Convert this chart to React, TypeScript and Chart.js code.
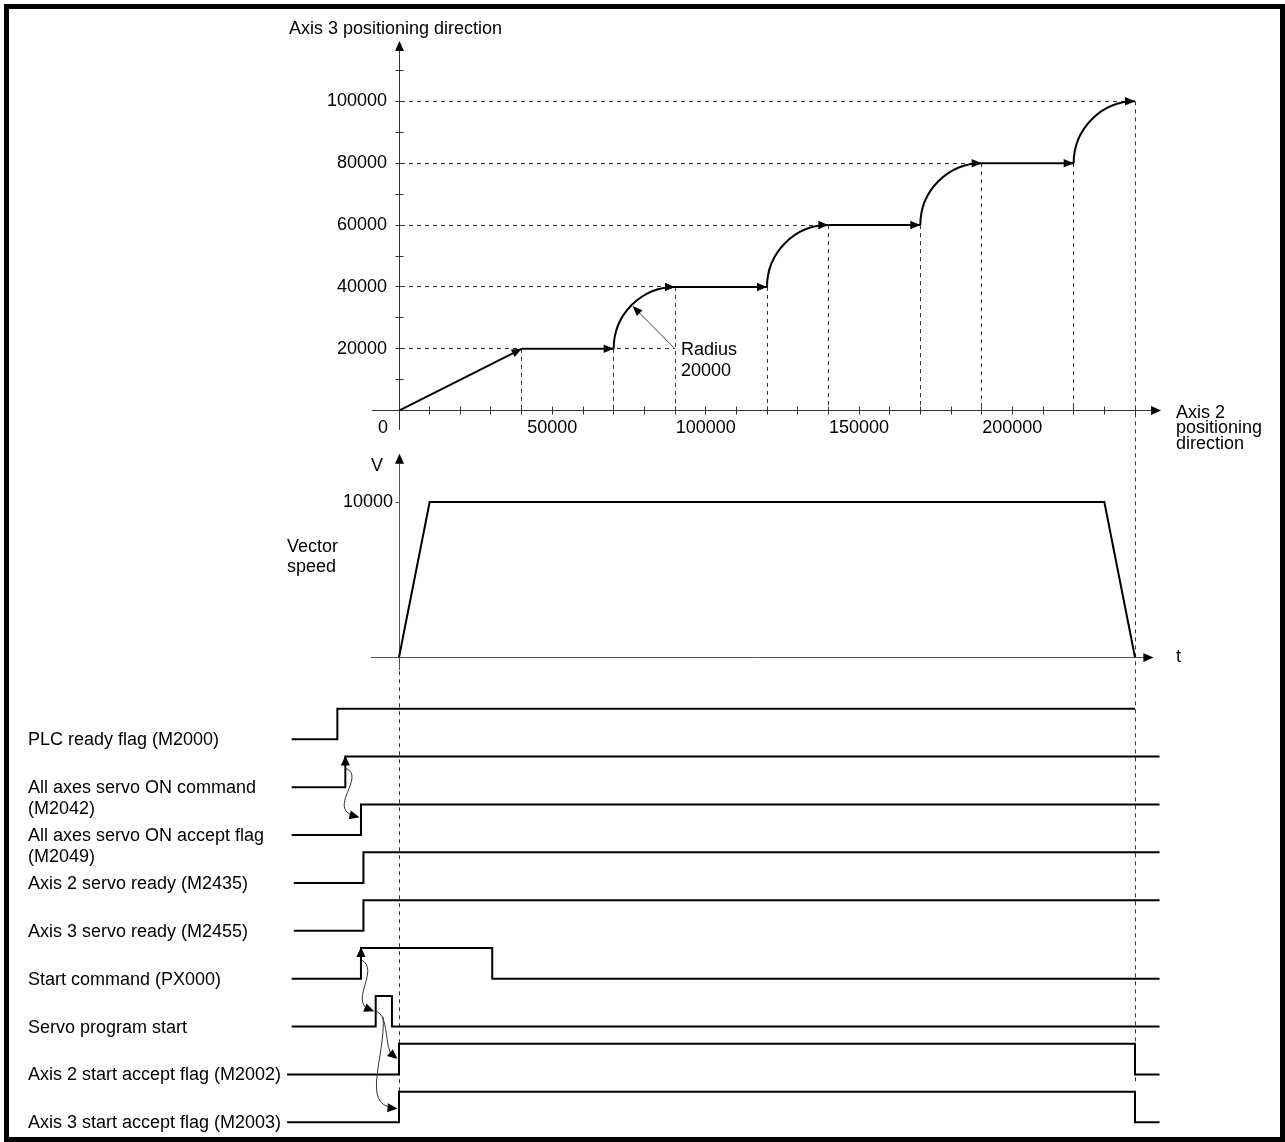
import React, { useEffect, useRef } from 'react';
import { Chart, registerables } from 'chart.js';

Chart.register(...registerables);

const W = 1285;
const H = 1142;

// ---------------- Positioning path (Axis 2 = horizontal, Axis 3 = vertical)
const pathAxis2 = [0, 40000, 70000, 90000, 120000, 140000, 170000, 190000, 220000, 240000];
const pathAxis3 = [0, 20000, 20000, 40000, 40000, 60000, 60000, 80000, 80000, 100000];
const pathKinds = ['line', 'line', 'arc', 'line', 'arc', 'line', 'arc', 'line', 'arc'];
const arcRadius = 20000;
const radiusArcIndex = 2;
const radiusLabel = ['Radius', '20000'];

const axis2LabelValues = [50000, 100000, 150000, 200000];
const axis2TickStep = 10000;
const axis2TickLast = 240000;
const axis3LabelValues = [20000, 40000, 60000, 80000, 100000];
const axis3TickStep = 10000;
const axis3TickLast = 110000;
const axis3Title = 'Axis 3 positioning direction';
const axis2Title = ['Axis 2', 'positioning', 'direction'];
const originLabel = '0';

// ---------------- Vector speed (time in arbitrary units, aligned with the path)
const speedTime = [0, 10, 230, 240];
const speedValue = [0, 10000, 10000, 0];
const speedLabelValues = [10000];
const speedTitle = ['Vector', 'speed'];
const speedAxisLabel = 'V';
const timeAxisLabel = 't';

// ---------------- Timing chart
const signalLabels = [
  ['PLC ready flag (M2000)'],
  ['All axes servo ON command', '(M2042)'],
  ['All axes servo ON accept flag', '(M2049)'],
  ['Axis 2 servo ready (M2435)'],
  ['Axis 3 servo ready (M2455)'],
  ['Start command (PX000)'],
  ['Servo program start'],
  ['Axis 2 start accept flag (M2002)'],
  ['Axis 3 start accept flag (M2003)'],
];
const signalBegin = [-35, -35, -35, -34.3, -34.3, -35, -35, -36.5, -36.5];
const signalEdges = [[-20.1], [-17.5], [-12.4], [-11.6], [-11.6], [-12.4, 30.4], [-7.6, -2.3], [0, 240], [0, 240]];
const signalFinish = [240, 248, 248, 248, 248, 248, 248, 248, 248];
const triggerRows = [1, 5];
const triggerTimes = [-17.5, -12.4];
// causal links: [row, time, level]
const linkFrom = [[1, -17.5, 0.62], [5, -12.4, 0.62], [6, -7.6, 0.5], [6, -5.2, 0.32]];
const linkTo = [[2, -12.4, 0.58], [6, -7.6, 0.5], [7, 0, 0.5], [8, 0, 0.45]];

// ---------------- Layout / style (not data)
const FONT = '18px "Liberation Sans", Arial, Helvetica, sans-serif';
const ORIGIN_X = 399;
const POS_PX_X = 736 / 240000;
const POS_ZERO_Y = 410.7;
const POS_PX_Y = 309.4 / 100000;
const TIME_PX = 736 / 240;
const SPEED_ZERO_Y = 657.3;
const SPEED_PX_Y = 155.3 / 10000;
const ROW0_Y = 739.3;
const ROW_PX = 47.875;
const HIGH = 0.64;
const linkCurves = [
  [22, 8, -34, -8],
  [20, 10, -26, -10],
  [14, 4, -14, -12],
  [3, 38, -37, -3],
];

function range(zero: number, k: number, size: number, vertical: boolean) {
  if (vertical) return { min: -(size - zero) / k, max: zero / k };
  return { min: -zero / k, max: (size - zero) / k };
}

const level = (row: number, lv: number) => -row + lv * HIGH;

function buildSignal(r: number) {
  const pts: { x: number; y: number }[] = [{ x: signalBegin[r], y: level(r, 0) }];
  let lv = 0;
  signalEdges[r].forEach((e) => {
    lv = 1 - lv;
    pts.push({ x: e, y: level(r, lv) });
  });
  pts.push({ x: signalFinish[r], y: level(r, lv) });
  return pts;
}

function seg(ctx: CanvasRenderingContext2D, x1: number, y1: number, x2: number, y2: number) {
  ctx.beginPath();
  ctx.moveTo(x1, y1);
  ctx.lineTo(x2, y2);
  ctx.stroke();
}

function arrow(ctx: CanvasRenderingContext2D, x: number, y: number, angle: number, len = 10, half = 4.2) {
  ctx.save();
  ctx.translate(x, y);
  ctx.rotate(angle);
  ctx.beginPath();
  ctx.moveTo(0, 0);
  ctx.lineTo(-len, -half);
  ctx.lineTo(-len, half);
  ctx.closePath();
  ctx.fill();
  ctx.restore();
}

const crisp = (v: number) => Math.round(v - 0.5) + 0.5;

function texts(ctx: CanvasRenderingContext2D, lines: string[], x: number, y: number, gap: number, align: CanvasTextAlign) {
  ctx.textAlign = align;
  lines.forEach((s, i) => ctx.fillText(s, x, y + i * gap));
}

const diagramPlugin = {
  id: 'diagram',
  beforeDraw(chart: any) {
    const ctx = chart.ctx as CanvasRenderingContext2D;
    ctx.save();
    ctx.fillStyle = '#fff';
    ctx.fillRect(0, 0, W, H);
    ctx.restore();
  },
  beforeDatasetsDraw(chart: any) {
    const ctx = chart.ctx as CanvasRenderingContext2D;
    const X = (v: number) => chart.scales.x.getPixelForValue(v);
    const Y = (v: number) => chart.scales.y.getPixelForValue(v);
    const XT = (v: number) => chart.scales.xt.getPixelForValue(v);
    const YS = (v: number) => chart.scales.ys.getPixelForValue(v);
    const YT = (v: number) => chart.scales.yt.getPixelForValue(v);
    ctx.save();

    // dashed guides
    ctx.setLineDash([4, 4]);
    ctx.strokeStyle = '#333';
    ctx.lineWidth = 1;
    pathKinds.forEach((k, s) => {
      if (k === 'arc') {
        const yy = crisp(Y(pathAxis3[s + 1]));
        seg(ctx, X(0) + 2, yy, X(pathAxis2[s + 1]), yy);
      }
    });
    const cx = pathAxis2[radiusArcIndex] + arcRadius;
    const cy = pathAxis3[radiusArcIndex];
    seg(ctx, X(0) + 2, crisp(Y(cy)), X(cx), crisp(Y(cy)));
    const last = pathAxis2.length - 1;
    for (let j = 1; j < last; j++) {
      const xx = crisp(X(pathAxis2[j]));
      seg(ctx, xx, Y(pathAxis3[j]), xx, Y(0));
    }
    const xe = crisp(X(pathAxis2[last]));
    seg(ctx, xe, Y(pathAxis3[last]), xe, YT(-7.15));
    const x0 = crisp(XT(0));
    seg(ctx, x0, YS(-900), x0, YT(level(8, 1)));
    ctx.setLineDash([]);

    // top chart axes
    ctx.strokeStyle = '#333';
    ctx.fillStyle = '#000';
    const ox = crisp(X(0));
    const oy = crisp(Y(0));
    seg(ctx, X(-8800), oy, X(246000), oy);
    arrow(ctx, X(248500), oy, 0, 10, 4.5);
    seg(ctx, ox, Y(-6200), ox, Y(117000));
    arrow(ctx, ox, Y(119500), -Math.PI / 2, 10, 4.5);
    for (let v = axis2TickStep; v <= axis2TickLast; v += axis2TickStep) {
      const xx = crisp(X(v));
      seg(ctx, xx, oy - 4, xx, oy + 4);
    }
    for (let v = axis3TickStep; v <= axis3TickLast; v += axis3TickStep) {
      const yy = crisp(Y(v));
      seg(ctx, ox - 4, yy, ox + 4, yy);
    }

    // speed chart axes
    ctx.strokeStyle = '#555';
    const sx = crisp(XT(0));
    const sy = crisp(YS(0));
    seg(ctx, XT(-9.2), sy, XT(243), sy);
    arrow(ctx, XT(246), sy, 0, 10, 4.5);
    seg(ctx, sx, YS(-820), sx, YS(12500));
    arrow(ctx, sx, YS(13100), -Math.PI / 2, 10, 4.5);
    speedLabelValues.forEach((v) => {
      const yy = crisp(YS(v));
      seg(ctx, sx - 4, yy, sx, yy);
    });
    ctx.restore();
  },
  afterDatasetsDraw(chart: any) {
    const ctx = chart.ctx as CanvasRenderingContext2D;
    const X = (v: number) => chart.scales.x.getPixelForValue(v);
    const Y = (v: number) => chart.scales.y.getPixelForValue(v);
    const XT = (v: number) => chart.scales.xt.getPixelForValue(v);
    const YS = (v: number) => chart.scales.ys.getPixelForValue(v);
    const YT = (v: number) => chart.scales.yt.getPixelForValue(v);
    ctx.save();
    ctx.fillStyle = '#000';
    ctx.strokeStyle = '#000';

    // arcs of the path
    const rx = Math.abs(X(arcRadius) - X(0));
    const ry = Math.abs(Y(arcRadius) - Y(0));
    ctx.lineWidth = 2;
    pathKinds.forEach((k, s) => {
      if (k !== 'arc') return;
      const cx = X(pathAxis2[s] + arcRadius);
      const cy = Y(pathAxis3[s]);
      ctx.beginPath();
      ctx.ellipse(cx, cy, rx, ry, 0, Math.PI, 1.5 * Math.PI, false);
      ctx.stroke();
    });
    // arrowheads at each segment end
    pathKinds.forEach((k, s) => {
      const x1 = X(pathAxis2[s + 1]);
      const y1 = Y(pathAxis3[s + 1]);
      const ang = k === 'arc' ? 0 : Math.atan2(y1 - Y(pathAxis3[s]), x1 - X(pathAxis2[s]));
      arrow(ctx, x1, y1, ang, 10, 4.2);
    });

    // radius leader
    const ccx = X(pathAxis2[radiusArcIndex] + arcRadius);
    const ccy = Y(pathAxis3[radiusArcIndex]);
    const tx = ccx - rx * Math.SQRT1_2;
    const ty = ccy - ry * Math.SQRT1_2;
    ctx.strokeStyle = '#444';
    ctx.lineWidth = 1;
    seg(ctx, ccx, ccy, tx + 5, ty + 5);
    arrow(ctx, tx + 1, ty + 1, Math.atan2(ty - ccy, tx - ccx), 10, 4);

    // texts
    ctx.font = FONT;
    ctx.fillStyle = '#000';
    ctx.textBaseline = 'middle';
    texts(ctx, [axis3Title], 289, 29, 0, 'left');
    const oy = Y(0);
    texts(ctx, [originLabel], X(0) - 16, oy + 17, 0, 'center');
    axis2LabelValues.forEach((v) => texts(ctx, [String(v)], X(v), oy + 17, 0, 'center'));
    axis3LabelValues.forEach((v) => texts(ctx, [String(v)], X(0) - 12, Y(v), 0, 'right'));
    texts(ctx, axis2Title, 1176, oy + 2, 15.5, 'left');
    texts(ctx, radiusLabel, ccx + 6, ccy + 1, 21, 'left');

    texts(ctx, [speedAxisLabel], XT(0) - 22, YS(13100) + 12, 0, 'center');
    speedLabelValues.forEach((v) => texts(ctx, [String(v)], XT(0) - 6, YS(v), 0, 'right'));
    texts(ctx, speedTitle, 287, 547, 20, 'left');
    texts(ctx, [timeAxisLabel], 1176, YS(0), 0, 'left');

    signalLabels.forEach((lines, r) => texts(ctx, lines, 28, YT(level(r, 0)) + 1, 21, 'left'));

    // trigger arrowheads on rising edges
    triggerRows.forEach((r, i) => arrow(ctx, XT(triggerTimes[i]), YT(level(r, 1)) - 1, -Math.PI / 2, 10, 4.5));

    // causal links
    ctx.strokeStyle = '#333';
    ctx.lineWidth = 1;
    linkFrom.forEach((f, i) => {
      const t = linkTo[i];
      const c = linkCurves[i];
      const x0 = XT(f[1]);
      const y0 = YT(level(f[0], f[2]));
      const x3 = XT(t[1]) - 1.5;
      const y3 = YT(level(t[0], t[2]));
      const c1x = x0 + c[0];
      const c1y = y0 + c[1];
      const c2x = x3 + c[2];
      const c2y = y3 + c[3];
      ctx.beginPath();
      ctx.moveTo(x0, y0);
      ctx.bezierCurveTo(c1x, c1y, c2x, c2y, x3 - 4, y3 - 1);
      ctx.stroke();
      arrow(ctx, x3, y3, Math.atan2(y3 - c2y, x3 - c2x), 10, 4.5);
    });

    // frame
    ctx.strokeStyle = '#000';
    ctx.lineWidth = 5;
    ctx.strokeRect(6.5, 6.5, W - 9, H - 9);
    ctx.restore();
  },
};

const lineSegIdx = pathKinds.map((k, i) => (k === 'line' ? i : -1)).filter((i) => i >= 0);

function makeConfig(): any {
  const base = { borderColor: '#000', borderWidth: 2, pointRadius: 0, tension: 0, fill: false, borderJoinStyle: 'miter', borderCapStyle: 'butt' };
  return {
    type: 'line',
    data: {
      datasets: [
        ...lineSegIdx.map((i) => ({
          ...base,
          xAxisID: 'x',
          yAxisID: 'y',
          data: [
            { x: pathAxis2[i], y: pathAxis3[i] },
            { x: pathAxis2[i + 1], y: pathAxis3[i + 1] },
          ],
        })),
        {
          ...base,
          xAxisID: 'xt',
          yAxisID: 'ys',
          data: speedTime.map((t, i) => ({ x: t, y: speedValue[i] })),
        },
        ...signalLabels.map((_, r) => ({
          ...base,
          xAxisID: 'xt',
          yAxisID: 'yt',
          stepped: 'before',
          data: buildSignal(r),
        })),
      ],
    },
    options: {
      responsive: false,
      maintainAspectRatio: false,
      devicePixelRatio: 1,
      animation: false,
      events: [],
      layout: { padding: 0 },
      plugins: { legend: { display: false }, tooltip: { enabled: false }, title: { display: false } },
      scales: {
        x: { type: 'linear', axis: 'x', position: 'bottom', display: false, bounds: 'data', grace: 0, ...range(ORIGIN_X, POS_PX_X, W, false) },
        xt: { type: 'linear', axis: 'x', position: 'bottom', display: false, bounds: 'data', grace: 0, ...range(ORIGIN_X, TIME_PX, W, false) },
        y: { type: 'linear', axis: 'y', position: 'left', display: false, bounds: 'data', grace: 0, ...range(POS_ZERO_Y, POS_PX_Y, H, true) },
        ys: { type: 'linear', axis: 'y', position: 'left', display: false, bounds: 'data', grace: 0, ...range(SPEED_ZERO_Y, SPEED_PX_Y, H, true) },
        yt: { type: 'linear', axis: 'y', position: 'left', display: false, bounds: 'data', grace: 0, ...range(ROW0_Y, ROW_PX, H, true) },
      },
    },
    plugins: [diagramPlugin],
  };
}

export default function App() {
  const ref = useRef<HTMLCanvasElement>(null);
  useEffect(() => {
    if (!ref.current) return;
    const chart = new Chart(ref.current, makeConfig());
    return () => chart.destroy();
  }, []);
  return (
    <div style={{ position: 'absolute', left: 0, top: 0, width: W, height: H, background: '#fff' }}>
      <canvas ref={ref} width={W} height={H} style={{ display: 'block', width: W, height: H }} />
    </div>
  );
}
